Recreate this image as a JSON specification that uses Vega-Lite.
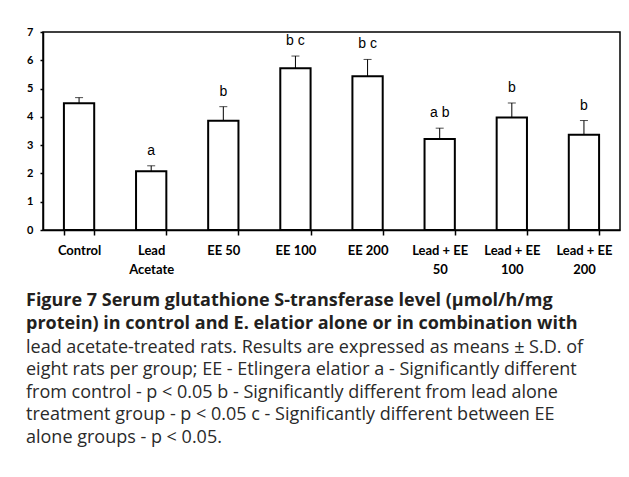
{
  "$schema": "https://vega.github.io/schema/vega-lite/v6.json",
  "width": 577,
  "height": 198,
  "autosize": "none",
  "padding": {"left": 43, "top": 32, "right": 9, "bottom": 247},
  "background": "white",
  "data": {
    "values": [
      {"group": "Control", "mean": 4.48, "upper": 4.68, "label": ""},
      {"group": "Lead|Acetate", "mean": 2.08, "upper": 2.27, "label": "a"},
      {"group": "EE 50", "mean": 3.86, "upper": 4.36, "label": "b"},
      {"group": "EE 100", "mean": 5.72, "upper": 6.15, "label": "b c"},
      {"group": "EE 200", "mean": 5.44, "upper": 6.03, "label": "b c"},
      {"group": "Lead + EE|50", "mean": 3.22, "upper": 3.6, "label": "a b"},
      {"group": "Lead + EE|100", "mean": 3.98, "upper": 4.49, "label": "b"},
      {"group": "Lead + EE|200", "mean": 3.37, "upper": 3.87, "label": "b"}
    ]
  },
  "config": {
    "view": {"stroke": "black", "strokeWidth": 1.5},
    "axis": {"grid": false, "domainColor": "black", "tickColor": "black", "labelColor": "black", "title": null}
  },
  "encoding": {
    "x": {
      "field": "group",
      "type": "nominal",
      "sort": null,
      "scale": {"paddingInner": 0.58, "paddingOuter": 0.29},
      "axis": {
        "labelExpr": "split(datum.label, '|')",
        "labelAngle": 0,
        "labelFont": "Lato",
        "labelFontWeight": "bold",
        "labelFontSize": 13,
        "labelLineHeight": 19,
        "labelPadding": 9,
        "tickBand": "extent",
        "tickSize": 5,
        "domainWidth": 1.5,
        "tickWidth": 1.5
      }
    },
    "y": {
      "field": "mean",
      "type": "quantitative",
      "scale": {"domain": [0, 7]},
      "axis": {"values": [0, 1, 2, 3, 4, 5, 6, 7], "labelOverlap": false, "labelFont": "Lato", "labelFontWeight": "bold", "labelFontSize": 11, "tickSize": 3, "labelPadding": 7, "domainWidth": 1.5, "tickWidth": 1.5}
    }
  },
  "layer": [
    {
      "mark": {"type": "rule", "color": "black", "strokeWidth": 1},
      "encoding": {"y2": {"field": "upper"}}
    },
    {
      "mark": {"type": "tick", "color": "black", "thickness": 1, "size": 8},
      "encoding": {"y": {"field": "upper", "type": "quantitative"}}
    },
    {
      "mark": {"type": "bar", "fill": "white", "stroke": "black", "strokeWidth": 2, "width": {"band": 1}}
    },
    {
      "mark": {"type": "text", "font": "Liberation Sans", "fontSize": 14, "fill": "black", "baseline": "alphabetic", "dy": -11},
      "encoding": {
        "y": {"field": "upper", "type": "quantitative"},
        "text": {"field": "label"}
      }
    }
  ],
  "title": {
    "text": ["Figure 7 Serum glutathione S-transferase level (µmol/h/mg", "protein) in control and E. elatior alone or in combination with"],
    "subtitle": ["lead acetate-treated rats. Results are expressed as means ± S.D. of", "eight rats per group; EE - Etlingera elatior a - Significantly different", "from control - p < 0.05 b - Significantly different from lead alone", "treatment group - p < 0.05 c - Significantly different between EE", "alone groups - p < 0.05."],
    "orient": "bottom",
    "anchor": "start",
    "frame": "group",
    "dx": -17,
    "offset": 16,
    "font": "Open Sans",
    "fontSize": 18,
    "fontWeight": "bold",
    "color": "#231f20",
    "lineHeight": 22.5,
    "subtitleFont": "Open Sans",
    "subtitleFontSize": 18,
    "subtitleColor": "#2a2a2a",
    "subtitleLineHeight": 22.5,
    "subtitlePadding": 6
  }
}
